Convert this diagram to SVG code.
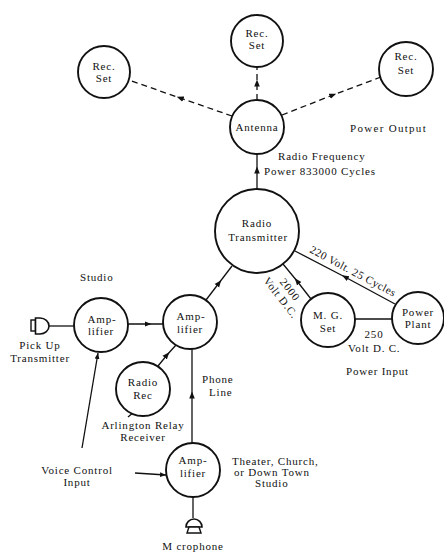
<svg xmlns="http://www.w3.org/2000/svg" width="444" height="553" viewBox="0 0 444 553">
<defs>
<marker id="arr" viewBox="0 0 10 10" refX="5" refY="5" markerWidth="7" markerHeight="7" markerUnits="userSpaceOnUse" orient="auto">
<path d="M0,1 L10,5 L0,9 Z" fill="#111"/>
</marker>
<marker id="arrEnd" viewBox="0 0 10 10" refX="10" refY="5" markerWidth="6" markerHeight="6" markerUnits="userSpaceOnUse" orient="auto">
<path d="M0,1 L10,5 L0,9 Z" fill="#111"/>
</marker>
</defs>
<style>
.n{fill:#fff;stroke:#111;stroke-width:1.9}
.t{font-family:"Liberation Serif","Times New Roman",serif;font-size:11px;fill:#111;letter-spacing:0.8px}
.c{text-anchor:middle}
.l{fill:none;stroke:#111;stroke-width:1.3}
.d{stroke-dasharray:6,4}
.m{marker-mid:url(#arr)}
.e{marker-end:url(#arrEnd)}
</style>
<rect width="444" height="553" fill="#fff"/>
<g id="connectors">
<path class="l d m" d="M232,116 L180,98 L129,80"/>
<path class="l d m" d="M257,100 L257,83 L257,67"/>
<path class="l d m" d="M282,115 L333,95 L381,77"/>
<path class="l m" d="M257,189 L257,170 L257,154"/>
<path class="l m" d="M395,304 L345,277 L295,251"/>
<path class="l m" d="M311,299 L297,281 L283,264"/>
<path class="l" d="M355,319 L392,319"/>
<path class="l" d="M49,326 L74,326"/>
<path class="l m" d="M128,324 L148,324 L163,324"/>
<path class="l m" d="M206,300 L219,283 L232,266"/>
<path class="l m" d="M158,366 L167,355 L176,345"/>
<path class="l m" d="M192,443 L192,395 L192,349"/>
<path class="l e" d="M82,448 L98,353"/>
<path class="l e" d="M135,473 L166,475"/>
<path class="l" d="M193,497 L193,518"/>
<path class="l" d="M128,417 L134,412"/>
</g>
<g id="recL"><circle class="n" cx="104" cy="72" r="26"/><text class="t c" x="104" y="70">Rec.</text><text class="t c" x="104" y="82">Set</text></g>
<g id="recT"><circle class="n" cx="257" cy="41" r="26"/><text class="t c" x="257" y="37">Rec.</text><text class="t c" x="257" y="49">Set</text></g>
<g id="recR"><circle class="n" cx="406" cy="69" r="27"/><text class="t c" x="406" y="60">Rec.</text><text class="t c" x="406" y="74">Set</text></g>
<g id="antenna"><circle class="n" cx="257" cy="127" r="27"/><text class="t c" x="257" y="131">Antenna</text></g>
<g id="transmitter"><circle class="n" cx="257" cy="231" r="42"/><text class="t c" x="257" y="227">Radio</text><text class="t c" x="258" y="241">Transmitter</text></g>
<g id="mgset"><circle class="n" cx="328" cy="320" r="27"/><text class="t c" x="328" y="319">M. G.</text><text class="t c" x="328" y="332">Set</text></g>
<g id="powerplant"><circle class="n" cx="418" cy="318" r="26"/><text class="t c" x="418" y="316">Power</text><text class="t c" x="418" y="328">Plant</text></g>
<g id="amp1"><circle class="n" cx="101" cy="325" r="27"/><text class="t c" x="102" y="323">Amp-</text><text class="t c" x="101" y="335">lifier</text></g>
<g id="amp2"><circle class="n" cx="190" cy="322" r="27"/><text class="t c" x="191" y="320">Amp-</text><text class="t c" x="190" y="333">lifier</text></g>
<g id="radiorec"><circle class="n" cx="143" cy="389" r="27"/><text class="t c" x="143" y="386">Radio</text><text class="t c" x="143" y="399">Rec</text></g>
<g id="amp3"><circle class="n" cx="193" cy="470" r="27"/><text class="t c" x="193" y="464">Amp-</text><text class="t c" x="193" y="477">lifier</text></g>
<g id="pickup">
<rect x="31" y="320" width="4.5" height="11" fill="#fff" stroke="#111" stroke-width="1.4"/>
<path d="M35.5,318 L40,318 A9,8 0 0 1 40,334 L35.5,334 Z" fill="#fff" stroke="#111" stroke-width="1.6"/>
</g>
<g id="microphone">
<path d="M186,527 A8,8 0 0 1 202,527 Z" fill="#fff" stroke="#111" stroke-width="1.6"/>
<path d="M189,527 L199,527 L201,533 L187,533 Z" fill="#fff" stroke="#111" stroke-width="1.4"/>
</g>
<g id="labels">
<text class="t" x="350" y="132" style="letter-spacing:1.3px">Power Output</text>
<text class="t" x="278" y="160">Radio Frequency</text>
<text class="t" x="264" y="175">Power  833000 Cycles</text>
<text class="t" transform="translate(309,252) rotate(28)" style="letter-spacing:0.5px">220 Volt. 25 Cycles</text>
<text class="t c" transform="translate(287,292) rotate(52)">2000</text>
<text class="t c" transform="translate(278,300) rotate(52)">Volt D.C.</text>
<text class="t c" x="374" y="338">250</text>
<text class="t" x="348" y="352">Volt D. C.</text>
<text class="t" x="346" y="375">Power Input</text>
<text class="t" x="80" y="281">Studio</text>
<text class="t c" x="40" y="349">Pick Up</text>
<text class="t c" x="40" y="362">Transmitter</text>
<text class="t" x="202" y="383">Phone</text>
<text class="t" x="209" y="396">Line</text>
<text class="t c" x="143" y="429">Arlington Relay</text>
<text class="t c" x="143" y="441">Receiver</text>
<text class="t c" x="77" y="474">Voice Control</text>
<text class="t c" x="77" y="486">Input</text>
<text class="t" x="232" y="465">Theater, Church,</text>
<text class="t" x="234" y="476">or Down Town</text>
<text class="t" x="255" y="487">Studio</text>
<text class="t c" x="193" y="550">M crophone</text>
</g>
</svg>
